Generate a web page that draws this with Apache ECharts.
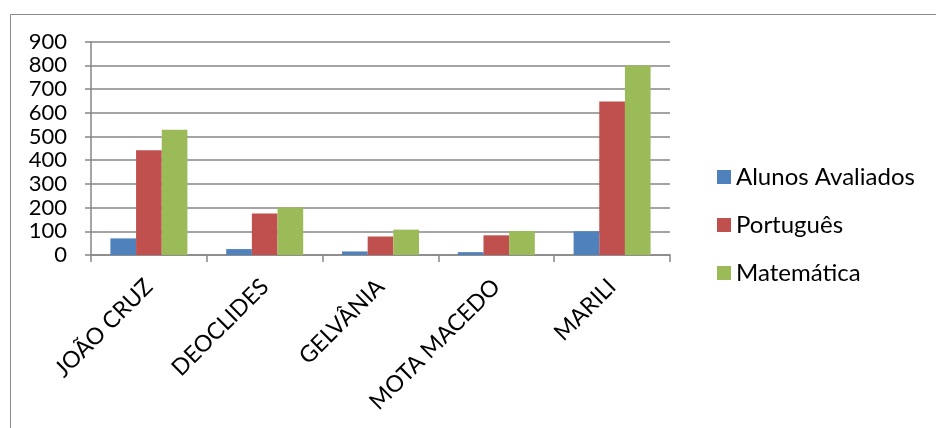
<!DOCTYPE html>
<html><head><meta charset="utf-8">
<script src="https://cdn.jsdelivr.net/npm/echarts@6/dist/echarts.min.js"></script>
<style>html,body{margin:0;padding:0;background:#fff}#c{width:936px;height:428px}</style>
</head><body><div id="c"></div>
<script>
const categories = ['JOÃO CRUZ', 'DEOCLIDES', 'GELVÂNIA', 'MOTA MACEDO', 'MARILI'];
const alunos = [70, 25, 15, 12, 100];
const portugues = [442, 175, 78, 83, 648];
const matematica = [528, 200, 107, 101, 800];
const yTicks = [0, 100, 200, 300, 400, 500, 600, 700, 800, 900];

const font = 'Lato, "Open Sans", sans-serif';
const chart = echarts.init(document.getElementById('c'));
chart.setOption({
  animation: false,
  backgroundColor: '#fff',
  graphic: [{
    type: 'rect', left: 8, top: 12, shape: { width: 1000, height: 1000 },
    style: { fill: 'none', stroke: '#8a8a8a', lineWidth: 1 }, silent: true
  }],
  grid: { left: 91, right: 266, top: 41.7, bottom: 173, containLabel: false },
  legend: {
    orient: 'vertical', left: 712, top: 160, itemGap: 24,
    itemWidth: 14, itemHeight: 14, icon: 'rect',
    textStyle: { fontFamily: font, fontSize: 24, color: '#000', padding: [0, 0, 0, 0], lineHeight: 24 },
    data: ['Alunos Avaliados', 'Português', 'Matemática']
  },
  xAxis: {
    type: 'category', data: categories,
    axisLine: { lineStyle: { color: '#868686', width: 1.5 } },
    axisTick: { show: true, length: 7, lineStyle: { color: '#868686', width: 1.5 } },
    axisLabel: { rotate: 45, fontFamily: font, fontSize: 23, color: '#000', margin: 28, interval: 0 }
  },
  yAxis: {
    type: 'value', min: 0, max: 900, interval: 100,
    axisLine: { show: true, lineStyle: { color: '#868686', width: 1.5 } },
    axisTick: { show: true, length: 6, lineStyle: { color: '#868686', width: 1.5 } },
    splitLine: { lineStyle: { color: '#868686', width: 1.5 } },
    axisLabel: {
      fontFamily: font, fontSize: 22, color: '#000', margin: 24,
      formatter: v => yTicks.includes(v) ? String(v) : ''
    }
  },
  series: [
    { name: 'Alunos Avaliados', type: 'bar', data: alunos, barGap: '0%', barCategoryGap: '33.5%', itemStyle: { color: '#4F81BD' } },
    { name: 'Português', type: 'bar', data: portugues, barGap: '0%', barCategoryGap: '33.5%', itemStyle: { color: '#C0504D' } },
    { name: 'Matemática', type: 'bar', data: matematica, barGap: '0%', barCategoryGap: '33.5%', itemStyle: { color: '#9BBB59' } }
  ]
});
</script></body></html>
